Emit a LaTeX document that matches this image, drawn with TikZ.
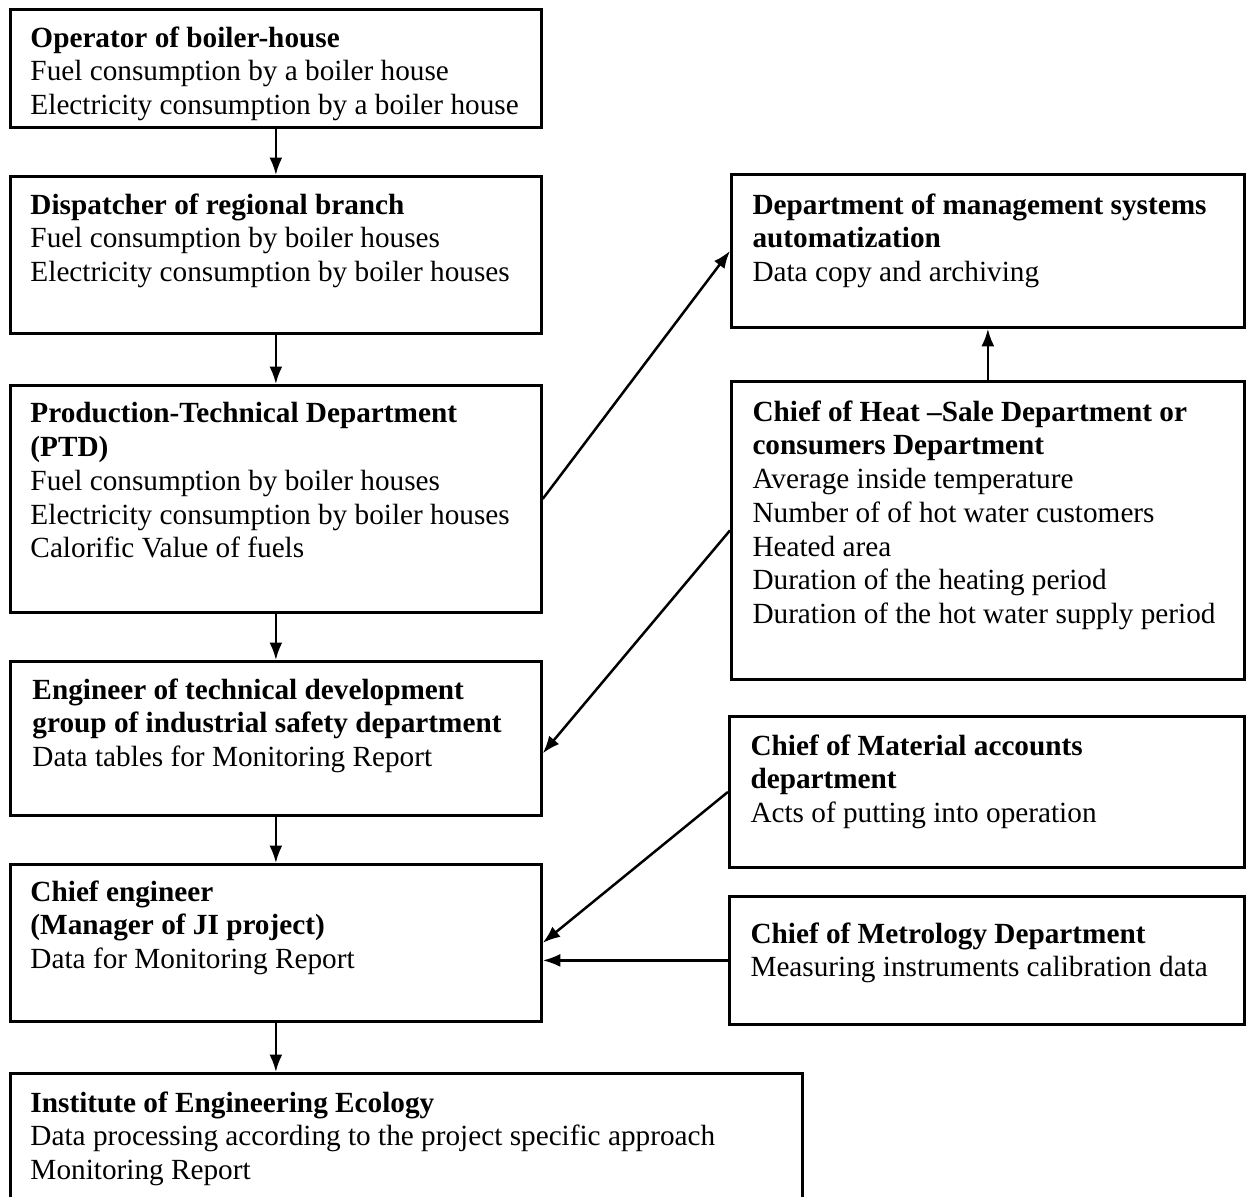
\documentclass[tikz,border=0pt]{standalone}
\usepackage{fontspec}
\setmainfont{Liberation Serif}
\usetikzlibrary{arrows.meta,calc}

\newlength{\du}
\setlength{\du}{0.4pt}

\tikzset{
  blk/.style={draw, line width=1.1pt, inner sep=0pt, anchor=north west},
  txt/.style={anchor=north west, inner sep=0pt, align=left,
    font=\fontsize{11.7}{13.5}\selectfont},
  flow/.style={-{Latex[length=7pt,width=5.2pt]}, line width=1pt}
}

\begin{document}
\begin{tikzpicture}[x=1\du,y=-1\du]
\useasboundingbox (0,0) rectangle (1248,1196);
% left column
\node[blk, minimum width=531\du, minimum height=118\du] (op) at (9,8) {};
\node[blk, minimum width=531\du, minimum height=157\du] (disp) at (9,175) {};
\node[blk, minimum width=531\du, minimum height=227\du] (ptd) at (9,384) {};
\node[blk, minimum width=531\du, minimum height=154\du] (eng) at (9,660) {};
\node[blk, minimum width=531\du, minimum height=157\du] (chief) at (9,863) {};
\node[blk, minimum width=792\du, minimum height=140\du] (inst) at (9,1072) {};
% right column
\node[blk, minimum width=513\du, minimum height=153\du] (dept) at (730,173) {};
\node[blk, minimum width=513\du, minimum height=298\du] (heat) at (730,380) {};
\node[blk, minimum width=515\du, minimum height=151\du] (mat) at (728,715) {};
\node[blk, minimum width=515\du, minimum height=128\du] (met) at (728,895) {};
% texts
\node[txt] (op-t) at ($(op.north west)+(21,18)$) {\textbf{Operator of boiler-house}\\
  Fuel consumption by a boiler house\\Electricity consumption by a boiler house};
\node[txt] (disp-t) at ($(disp.north west)+(21,18)$) {\textbf{Dispatcher of regional branch}\\
  Fuel consumption by boiler houses\\Electricity consumption by boiler houses};
\node[txt] (ptd-t) at ($(ptd.north west)+(21,18)$) {\textbf{Production-Technical Department}\\
  \textbf{(PTD)}\\Fuel consumption by boiler houses\\Electricity consumption by boiler houses\\
  Calorific Value of fuels};
\node[txt] (eng-t) at ($(eng.north west)+(23,18)$) {\textbf{Engineer of technical development}\\
  \textbf{group of industrial safety department}\\Data tables for Monitoring Report};
\node[txt] (chief-t) at ($(chief.north west)+(21,17)$) {\textbf{Chief engineer}\\
  \textbf{(Manager of JI project)}\\Data for Monitoring Report};
\node[txt] (inst-t) at ($(inst.north west)+(21,19)$) {\textbf{Institute of Engineering Ecology}\\
  Data processing according to the project specific approach\\Monitoring Report};
\node[txt] (dept-t) at ($(dept.north west)+(22,20)$) {\textbf{Department of management systems}\\
  \textbf{automatization}\\Data copy and archiving};
\node[txt] (heat-t) at ($(heat.north west)+(22,20)$) {\textbf{Chief of Heat --Sale Department or}\\
  \textbf{consumers Department}\\Average inside temperature\\Number of of hot water customers\\
  Heated area\\Duration of the heating period\\Duration of the hot water supply period};
\node[txt] (mat-t) at ($(mat.north west)+(22,19)$) {\textbf{Chief of Material accounts}\\
  \textbf{department}\\Acts of putting into operation};
\node[txt] (met-t) at ($(met.north west)+(22,27)$) {\textbf{Chief of Metrology Department}\\
  Measuring instruments calibration data};
% arrows
\draw[flow] (op) -- (disp);
\draw[flow] (disp) -- (ptd);
\draw[flow] (ptd) -- (eng);
\draw[flow] (eng) -- (chief);
\draw[flow] (chief.south) -- (chief.south |- inst.north);
\draw[flow] (ptd.east) -- (dept.west);
\draw[flow] (heat.north) -- (dept.south);
\draw[flow] (heat.west) -- ($(eng.east)+(0,15)$);
\draw[flow] (mat.west) -- (chief.east);
\draw[flow] (met.west) -- (met.west -| chief.east);
\end{tikzpicture}
\end{document}
